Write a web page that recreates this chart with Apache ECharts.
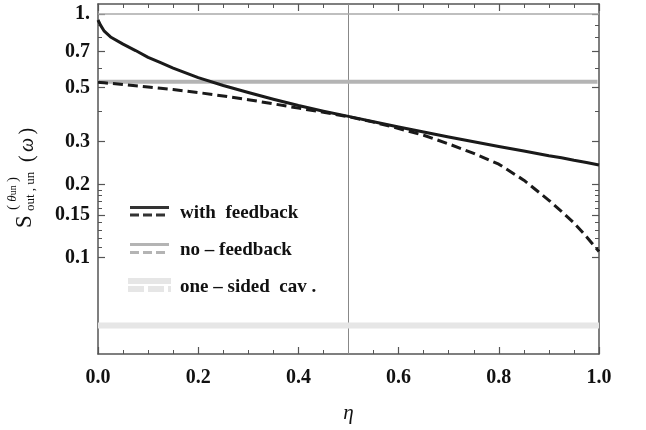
<!DOCTYPE html>
<html>
<head>
<meta charset="utf-8">
<script src="https://cdn.jsdelivr.net/npm/echarts@6/dist/echarts.min.js"></script>
<style>html,body{margin:0;padding:0;background:#fff;}#chart{width:646px;height:430px;}</style>
</head>
<body>
<div id="chart"></div>
<script>
// ---- data ----
const eta = [0, 0.005, 0.0125, 0.025, 0.05, 0.075, 0.1, 0.125, 0.15, 0.175, 0.2, 0.25, 0.3, 0.35, 0.4, 0.45, 0.5, 0.55, 0.6, 0.65, 0.7, 0.75, 0.8, 0.85, 0.9, 0.925, 0.95, 0.975, 1.0];
const withFeedbackSolid = [0.945, 0.90, 0.85, 0.805, 0.752, 0.708, 0.664, 0.631, 0.600, 0.573, 0.548, 0.509, 0.476, 0.447, 0.421, 0.399, 0.380, 0.3615, 0.344, 0.328, 0.313, 0.299, 0.286, 0.274, 0.262, 0.257, 0.251, 0.246, 0.240];
const withFeedbackDashed = [0.525, 0.524, 0.522, 0.519, 0.514, 0.508, 0.502, 0.496, 0.490, 0.483, 0.476, 0.461, 0.445, 0.428, 0.411, 0.395, 0.379, 0.360, 0.339, 0.318, 0.293, 0.268, 0.242, 0.208, 0.172, 0.155, 0.139, 0.122, 0.106];
const noFeedbackEta = [0, 0.997];
const noFeedback = [0.527, 0.527];
const oneSidedEta = [0, 1];
const oneSided = [0.0527, 0.0527];
const refLineY = 1;      // horizontal reference at S = 1
const refLineX = 0.5;    // vertical reference at eta = 0.5
const yTickValues = [1, 0.7, 0.5, 0.3, 0.2, 0.15, 0.1];
const yTickLabels = ['1.', '0.7', '0.5', '0.3', '0.2', '0.15', '0.1'];
const yMinorTicks = [0.9, 0.8, 0.6, 0.4, 0.19, 0.18, 0.17, 0.16, 0.14, 0.13, 0.12, 0.11];
const xTickLabels = ['0.0', '0.2', '0.4', '0.6', '0.8', '1.0'];
const legendLabels = ['with  feedback', 'no \u2013 feedback', 'one \u2013 sided  cav .'];

// ---- helpers ----
const L = v => Math.log10(v);
const yMin = -1.3951, yMax = 0.041;
const pairs = (xs, ys) => xs.map((x, i) => [x, L(ys[i])]);
const FRAME = '#555';
const FONT = '"Liberation Serif", "DejaVu Serif", serif';

const chart = echarts.init(document.getElementById('chart'), null, {renderer: 'canvas'});

function xAxisDef(pos, showLabel) {
  return {
    type: 'value', position: pos, min: 0, max: 1, interval: 0.2,
    axisLine: {show: true, onZero: false, lineStyle: {color: FRAME, width: 1.5}},
    axisTick: {show: true, inside: true, length: 7, lineStyle: {color: FRAME, width: 1.2}},
    minorTick: {show: true, splitNumber: 4, length: 4, lineStyle: {color: FRAME, width: 1}},
    splitLine: {show: false}, minorSplitLine: {show: false},
    axisLabel: {show: showLabel, margin: 14, color: '#111', fontFamily: FONT, fontWeight: 'bold', fontSize: 20,
      formatter: v => { const i = Math.round(v / 0.2); return xTickLabels[i] !== undefined ? xTickLabels[i] : ''; }},
    name: showLabel ? '\u03b7' : '', nameLocation: 'middle', nameGap: 49,
    nameTextStyle: {fontFamily: FONT, fontStyle: 'italic', fontSize: 21, color: '#111'}
  };
}
function yAxisDef(pos, major, showLabel) {
  const vals = (major ? yTickValues : yMinorTicks).map(L);
  return {
    type: 'value', position: pos, min: yMin, max: yMax,
    axisLine: {show: major, onZero: false, lineStyle: {color: FRAME, width: 1.5}},
    axisTick: {show: true, inside: true, length: major ? 7 : 4, customValues: vals, lineStyle: {color: FRAME, width: major ? 1.2 : 1}},
    splitLine: {show: false},
    axisLabel: {show: showLabel, margin: 8, customValues: vals, color: '#111', fontFamily: FONT, fontWeight: 'bold', fontSize: 20,
      formatter: v => { const i = yTickValues.findIndex(t => Math.abs(L(t) - v) < 1e-6); return i >= 0 ? yTickLabels[i] : ''; }}
  };
}

const option = {
  animation: false,
  backgroundColor: '#fff',
  grid: {left: 98, right: 47, top: 4, bottom: 76, containLabel: false},
  xAxis: [xAxisDef('bottom', true), xAxisDef('top', false)],
  yAxis: [yAxisDef('left', true, true), yAxisDef('left', false, false), yAxisDef('right', true, false), yAxisDef('right', false, false)],
  series: [
    {type: 'line', name: 'ref-x', data: [[refLineX, yMin], [refLineX, yMax]], symbol: 'none', silent: true,
      lineStyle: {color: '#888', width: 1}, z: 1},
    {type: 'line', name: 'ref-y', data: [[0, L(refLineY)], [1, L(refLineY)]], symbol: 'none', silent: true,
      lineStyle: {color: '#aaa', width: 1.5}, z: 1},
    {type: 'line', name: 'one-sided cav.', data: pairs(oneSidedEta, oneSided), symbol: 'none',
      lineStyle: {color: '#e6e6e6', width: 6}, z: 2},
    {type: 'line', name: 'no-feedback', data: pairs(noFeedbackEta, noFeedback), symbol: 'none',
      lineStyle: {color: '#b4b4b4', width: 4}, z: 3},
    {type: 'line', name: 'with feedback (dashed)', data: pairs(eta, withFeedbackDashed), symbol: 'none', smooth: false,
      lineStyle: {color: '#1a1a1a', width: 3, type: [10, 5], join: 'round'}, z: 4},
    {type: 'line', name: 'with feedback', data: pairs(eta, withFeedbackSolid), symbol: 'none', smooth: false,
      lineStyle: {color: '#1a1a1a', width: 3, join: 'round'}, z: 5}
  ],
  graphic: [
    // legend swatches + labels
    {type: 'line', shape: {x1: 130, y1: 207.5, x2: 169, y2: 207.5}, style: {stroke: '#333', lineWidth: 3}},
    {type: 'line', shape: {x1: 130, y1: 215, x2: 169, y2: 215}, style: {stroke: '#333', lineWidth: 3, lineDash: [9, 4]}},
    {type: 'text', x: 180, y: 213, style: {text: legendLabels[0], font: 'bold 19px ' + FONT, fill: '#111', verticalAlign: 'middle'}},
    {type: 'line', shape: {x1: 130, y1: 244.5, x2: 169, y2: 244.5}, style: {stroke: '#b4b4b4', lineWidth: 3}},
    {type: 'line', shape: {x1: 130, y1: 252.5, x2: 169, y2: 252.5}, style: {stroke: '#b4b4b4', lineWidth: 3, lineDash: [9, 4]}},
    {type: 'text', x: 180, y: 250, style: {text: legendLabels[1], font: 'bold 19px ' + FONT, fill: '#111', verticalAlign: 'middle'}},
    {type: 'line', shape: {x1: 128, y1: 281, x2: 171, y2: 281}, style: {stroke: '#e6e6e6', lineWidth: 6}},
    {type: 'line', shape: {x1: 128, y1: 289, x2: 171, y2: 289}, style: {stroke: '#e6e6e6', lineWidth: 6, lineDash: [16, 4]}},
    {type: 'text', x: 180, y: 287, style: {text: legendLabels[2], font: 'bold 19px ' + FONT, fill: '#111', verticalAlign: 'middle'}},
    // y-axis title, rotated
    {type: 'group', x: 33, y: 228, rotation: Math.PI / 2, children: [
      {type: 'text', x: 0, y: -8, style: {text: 'S', font: '23px ' + FONT, fill: '#111', verticalAlign: 'middle'}},
      {type: 'text', x: 17, y: -2, style: {text: 'out , un', font: '13px ' + FONT, fill: '#111', verticalAlign: 'middle'}},
      {type: 'text', x: 18, y: -20, style: {
        text: '{p|(} {t|\u03b8}{s|un} {p|)}', fill: '#111', verticalAlign: 'middle',
        rich: {p: {font: '15px ' + FONT}, t: {font: 'italic 13px ' + FONT}, s: {font: '10px ' + FONT}}}},
      {type: 'text', x: 66, y: -5, style: {
        text: '{p|(} {w|\u03c9} {p|)}', fill: '#111', verticalAlign: 'middle',
        rich: {p: {font: '20px ' + FONT}, w: {font: 'italic 20px ' + FONT}}}}
    ]}
  ]
};
chart.setOption(option);
</script>
</body>
</html>
